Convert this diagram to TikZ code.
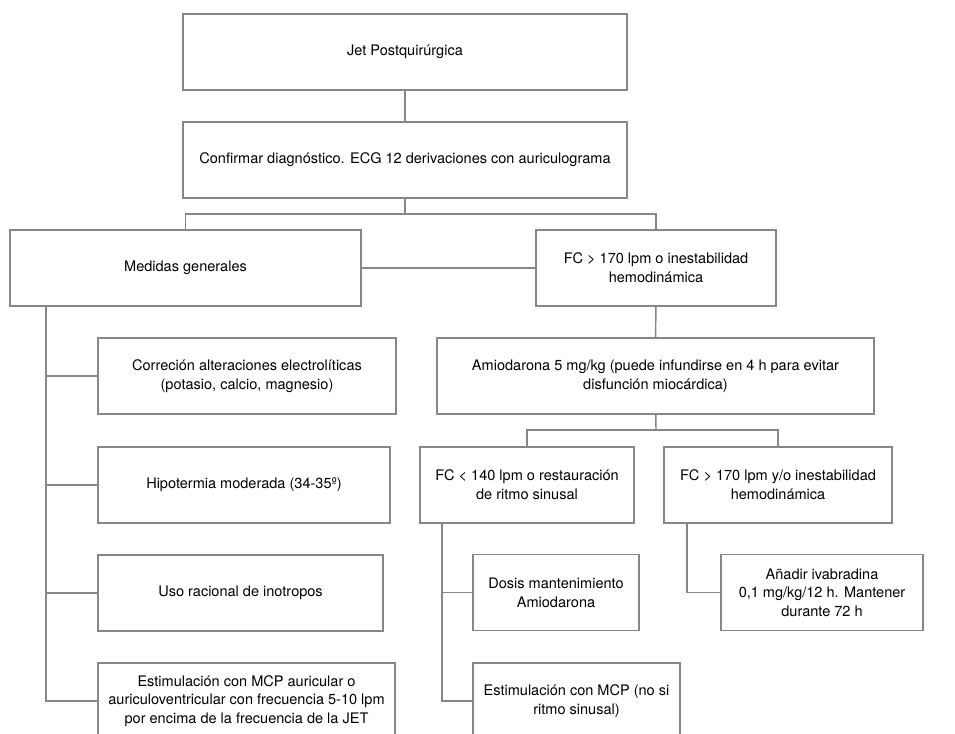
\documentclass[tikz,border=0pt]{standalone}
\usepackage{fontspec}
\setmainfont{TeX Gyre Heros}
\definecolor{linegray}{RGB}{135,135,135}
\begin{document}
\begin{tikzpicture}[x=0.75pt,y=-0.75pt,
  bx/.style={draw=linegray,line width=1.1pt,rectangle,inner sep=2pt,align=center,
    font=\fontsize{10.9}{14}\selectfont,minimum height=57pt},
  ln/.style={draw=linegray,line width=1.1pt}]
\useasboundingbox (0,0) rectangle (955,733);
\clip (0,0) rectangle (955,733);
\node[bx,minimum width=333pt] (jet) at (405,52) {Jet Postquirúrgica};
\node[bx,minimum width=333pt] (conf) at (405,160) {Confirmar diagnóstico. ECG 12 derivaciones con auriculograma};
\node[bx,minimum width=263.25pt] (med) at (185.5,268) {Medidas generales};
\node[bx,minimum width=180pt] (fc1) at (656,268) {FC > 170 lpm o inestabilidad\\hemodinámica};
\node[bx,minimum width=223.5pt] (cor) at (247,376) {Correción alteraciones electrolíticas\\(potasio, calcio, magnesio)};
\node[bx,minimum width=219pt] (hip) at (244,485) {Hipotermia moderada (34-35º)};
\node[bx,minimum width=213.75pt] (uso) at (240.5,593) {Uso racional de inotropos};
\node[bx,minimum width=222.75pt] (est) at (246.5,701) {Estimulación con MCP auricular o\\auriculoventricular con frecuencia 5-10 lpm\\por encima de la frecuencia de la JET};
\node[bx,minimum width=327.75pt] (amio) at (655.5,376) {Amiodarona 5 mg/kg (puede infundirse en 4 h para evitar\\disfunción miocárdica)};
\node[bx,minimum width=160.5pt] (fc2) at (527,485) {FC < 140 lpm o restauración\\de ritmo sinusal};
\node[bx,minimum width=171pt] (fc3) at (778,485) {FC > 170 lpm y/o inestabilidad\\hemodinámica};
\node[bx,minimum width=124.5pt] (dos) at (556,592.5) {Dosis mantenimiento\\Amiodarona};
\node[bx,minimum width=155.25pt] (mcp) at (576.5,701) {Estimulación con MCP (no si\\ritmo sinusal)};
\node[bx,minimum width=151.5pt] (ana) at (822,592.5) {Añadir ivabradina\\0,1 mg/kg/12 h. Mantener\\durante 72 h};
\coordinate (s1) at (405,214);
\coordinate (s2) at (656,430);
\coordinate (l0) at (46,306);
\coordinate (r0) at (442,523);
\coordinate (q0) at (687,523);
\draw[ln] (jet) -- (conf);
\draw[ln] (conf) -- (s1);
\draw[ln] (med.north) |- (s1) -| (fc1.north);
\draw[ln] (med) -- (fc1);
\draw[ln] (fc1) -- (amio);
\draw[ln] (amio) -- (s2);
\draw[ln] (fc2.north) |- (s2) -| (fc3.north);
\draw[ln] (l0) |- (est.west);
\draw[ln] (l0 |- cor.west) -- (cor.west);
\draw[ln] (l0 |- hip.west) -- (hip.west);
\draw[ln] (l0 |- uso.west) -- (uso.west);
\draw[ln] (r0) |- (mcp.west);
\draw[ln] (r0 |- dos.west) -- (dos.west);
\draw[ln] (q0) |- (ana.west);
\end{tikzpicture}
\end{document}
